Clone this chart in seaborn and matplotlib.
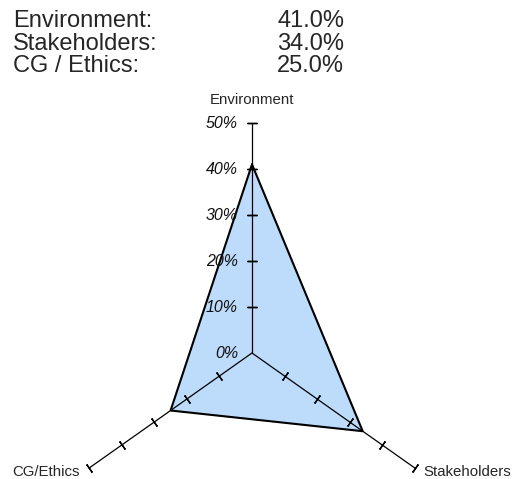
import numpy as np
import pandas as pd
import seaborn as sns
import matplotlib
matplotlib.use("Agg")
import matplotlib.pyplot as plt

# ---- data ----
summary_labels = ["Environment:", "Stakeholders:", "CG / Ethics:"]
summary_values = ["41.0%", "34.0%", "25.0%"]
axis_labels = ["Environment", "Stakeholders", "CG/Ethics"]
values = [41.0, 34.0, 25.0]
tick_values = [0, 10, 20, 30, 40, 50]
tick_labels = ["0%", "10%", "20%", "30%", "40%", "50%"]
r_max = 50

sns.set_theme(style="white")
plt.rcParams["font.family"] = ["Liberation Sans", "DejaVu Sans"]

W, H = 518, 479
fig = plt.figure(figsize=(W / 100, H / 100), dpi=100)
ax = fig.add_axes([0, 0, 1, 1])
ax.set_axis_off()

# pixel geometry (center and scales)
cx, cy = 252, 353
sy = 230 / 50.0   # px per unit vertically
sx = 188 / 50.0   # px per unit horizontally
ax.set_xlim((0 - cx) / sx, (W - cx) / sx)
ax.set_ylim((cy - H) / sy, (cy - 0) / sy)

angles = np.deg2rad([90, -30, 210])
df = pd.DataFrame({"label": axis_labels, "value": values, "theta": angles})
df["x"] = df["value"] * np.cos(df["theta"])
df["y"] = df["value"] * np.sin(df["theta"])

# filled polygon
ax.fill(df["x"], df["y"], color="#BDDCFB", zorder=1)
xs = list(df["x"]) + [df["x"].iloc[0]]
ys = list(df["y"]) + [df["y"].iloc[0]]
ax.plot(xs, ys, color="black", lw=1.5, zorder=3)

# axes and ticks
for th in angles:
    ex, ey = r_max * np.cos(th), r_max * np.sin(th)
    ax.plot([0, ex], [0, ey], color="black", lw=0.9, zorder=2)
    # perpendicular tick marks in display space
    disp_ang = np.degrees(np.arctan2(np.sin(th) * sy, np.cos(th) * sx))
    tv = np.array(tick_values[1:], dtype=float)
    ax.plot(tv * np.cos(th), tv * np.sin(th), linestyle="none",
            marker=(2, 2, disp_ang), markersize=7, markeredgewidth=1.0,
            color="black", zorder=4)

# radial tick labels on vertical axis
for v, lab in zip(tick_values, tick_labels):
    ax.text(-14.0 / sx, v, lab, ha="right", va="center", fontsize=11.5,
            style="italic", color="#111111", zorder=5)

# axis category labels
lab_fs = 10.8
ax.text(0, (cy - 100) / sy, axis_labels[0], ha="center", va="center",
        fontsize=lab_fs)
ax.text((423 - cx) / sx, (cy - 472) / sy, axis_labels[1], ha="left",
        va="center", fontsize=lab_fs)
ax.text((80 - cx) / sx, (cy - 472) / sy, axis_labels[2], ha="right",
        va="center", fontsize=lab_fs)

# summary text at top
for i, (lab, val) in enumerate(zip(summary_labels, summary_values)):
    ypx = 27 + 22.5 * i
    fig.text(13 / W, 1 - ypx / H, lab, ha="left", va="baseline", fontsize=17)
    fig.text(277 / W, 1 - ypx / H, val, ha="left", va="baseline", fontsize=17)

fig.savefig("out.png", dpi=100)
